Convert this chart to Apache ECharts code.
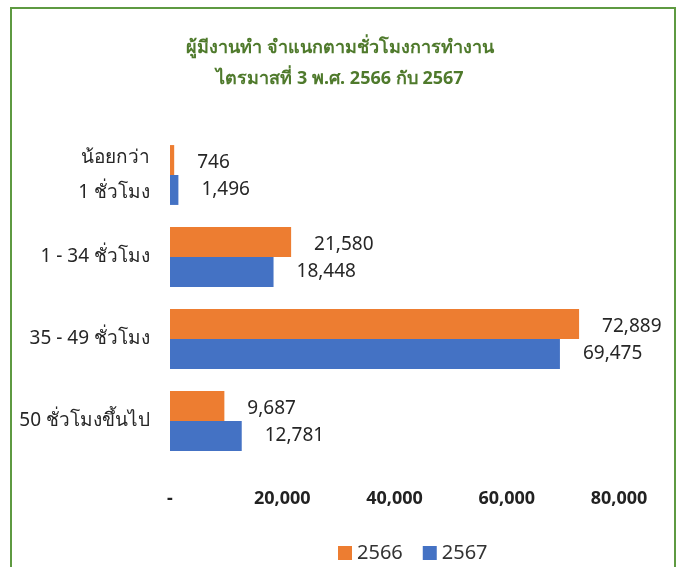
<!DOCTYPE html>
<html lang="th">
<head>
  <meta charset="UTF-8">
  <title>ผู้มีงานทำ จำแนกตามชั่วโมงการทำงาน</title>
  <script src="https://cdn.jsdelivr.net/npm/echarts@6/dist/echarts.min.js"></script>
  <style>
    html, body { margin: 0; padding: 0; background: #fff; }
    #chart { width: 680px; height: 567px; }
  </style>
</head>
<body>
  <div id="chart"></div>
  <script>
    // ข้อมูล
    const categories = ['น้อยกว่า\n1 ชั่วโมง', '1 - 34 ชั่วโมง', '35 - 49 ชั่วโมง', '50 ชั่วโมงขึ้นไป']
    const years = ['2566', '2567']
    const values2566 = [746, 21580, 72889, 9687]
    const values2567 = [1496, 18448, 69475, 12781]
    const xTicks = [0, 20000, 40000, 60000, 80000]

    const font = '"Noto Sans", "DejaVu Sans", sans-serif'
    const fmt = v => v === 0 ? '-' : v.toLocaleString('en-US')

    const chart = echarts.init(document.getElementById('chart'))
    chart.setOption({
      animation: false,
      textStyle: { fontFamily: font },
      color: ['#ED7D31', '#4472C4'],
      graphic: [{
        type: 'rect',
        shape: { x: 11, y: 8, width: 664, height: 600 },
        style: { fill: 'none', stroke: '#5E9A41', lineWidth: 2 }
      }],
      title: {
        text: 'ผู้มีงานทำ จำแนกตามชั่วโมงการทำงาน\nไตรมาสที่ 3 พ.ศ. 2566 กับ 2567',
        left: 'center',
        top: 27,
        textStyle: { color: '#4F7A2C', fontSize: 18, fontWeight: 'bold', lineHeight: 31, fontFamily: font }
      },
      legend: {
        data: years,
        bottom: -1,
        left: 333,
        itemWidth: 14,
        itemHeight: 14,
        itemGap: 20,
        icon: 'rect',
        textStyle: { fontSize: 20, color: '#333', fontFamily: font }
      },
      grid: { left: 170, right: 61, top: 134, height: 328, containLabel: false },
      xAxis: {
        type: 'value',
        min: 0,
        max: 80000,
        interval: 20000,
        axisLine: { show: false },
        axisTick: { show: false },
        splitLine: { show: false },
        axisLabel: {
          margin: 28,
          fontSize: 18,
          fontWeight: 'bold',
          color: '#222',
          formatter: v => xTicks.includes(v) ? fmt(v) : ''
        }
      },
      yAxis: {
        type: 'category',
        data: categories,
        inverse: true,
        axisLine: { show: false },
        axisTick: { show: false },
        axisLabel: { margin: 20, fontSize: 19, color: '#262626', lineHeight: 35 }
      },
      series: [
        {
          name: years[0],
          type: 'bar',
          data: values2566,
          barGap: '0%',
          barCategoryGap: '27%',
          label: {
            show: true, position: 'right', distance: 23, offset: [0, 3],
            fontSize: 19, color: '#262626', formatter: p => fmt(p.value)
          }
        },
        {
          name: years[1],
          type: 'bar',
          data: values2567,
          barGap: '0%',
          barCategoryGap: '27%',
          label: {
            show: true, position: 'right', distance: 23,
            fontSize: 19, color: '#262626', formatter: p => fmt(p.value)
          }
        }
      ]
    })
  </script>
</body>
</html>
